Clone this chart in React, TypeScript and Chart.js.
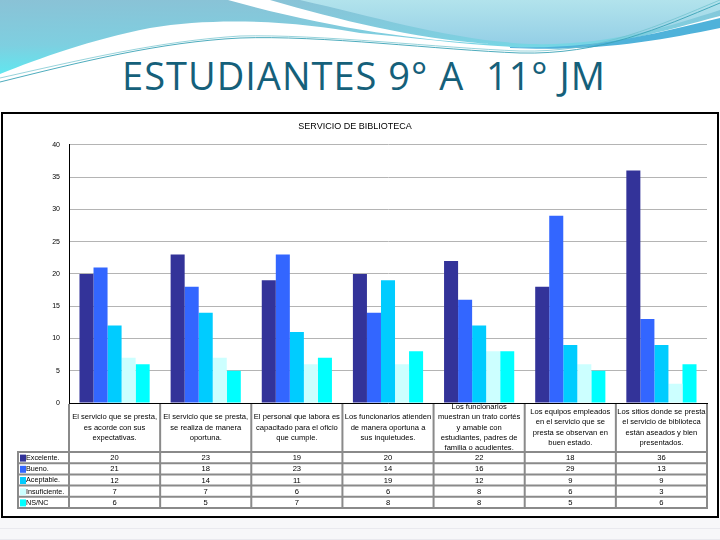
import React, { useEffect, useRef } from "react";
import { Chart, registerables } from "chart.js";

Chart.register(...registerables);

// ---- data ----
const categoryLines: string[][] = [
  ["El servicio que se presta,", "es acorde con sus", "expectativas."],
  ["El servicio que se presta,", "se realiza de manera", "oportuna."],
  ["El personal que labora es", "capacitado para el oficio", "que cumple."],
  ["Los funcionarios atienden", "de manera oportuna a", "sus inquietudes."],
  ["Los funcionarios", "muestran un trato cortés", "y amable con", "estudiantes, padres de", "familia o acudientes."],
  ["Los equipos empleados", "en el servicio que se", "presta se observan en", "buen estado."],
  ["Los sitios donde se presta", "el servicio de biblioteca", "están aseados y bien", "presentados."],
];
const seriesNames = ["Excelente.", "Bueno.", "Aceptable.", "Insuficiente.", "NS/NC"];
const excelente = [20, 23, 19, 20, 22, 18, 36];
const bueno = [21, 18, 23, 14, 16, 29, 13];
const aceptable = [12, 14, 11, 19, 12, 9, 9];
const insuficiente = [7, 7, 6, 6, 8, 6, 3];
const nsnc = [6, 5, 7, 8, 8, 5, 6];
const seriesColors = ["#333399", "#3366FF", "#00CCFF", "#CCFFFF", "#00FFFF"];
const yMin = 0;
const yMax = 40;
const yStep = 5;
const chartTitle = "SERVICIO DE BIBLIOTECA";
const pageTitle = "ESTUDIANTES 9° A  11° JM";

const FONT = "'Liberation Sans', Arial, sans-serif";

const tablePlugin = {
  id: "dataTable",
  afterDraw(chart: any) {
    const ctx = chart.ctx as CanvasRenderingContext2D;
    const xs = chart.scales.x;
    const area = chart.chartArea;
    const n = categoryLines.length;
    const left = area.left;
    const right = area.right;
    const cw = (right - left) / n;
    const top = area.bottom;
    const headH = 49;
    const rowH = 11.2;
    const legLeft = 15;
    const bottom = top + headH + rowH * seriesNames.length;
    ctx.save();
    // grid
    ctx.strokeStyle = "#8a8a8a";
    ctx.lineWidth = 2;
    ctx.beginPath();
    for (let i = 0; i <= n; i++) {
      const px = left + i * cw;
      ctx.moveTo(px, top + 1);
      ctx.lineTo(px, bottom);
    }
    for (let r = 0; r <= seriesNames.length; r++) {
      const py = top + headH + r * rowH;
      ctx.moveTo(legLeft - 1, py);
      ctx.lineTo(right + 1, py);
    }
    ctx.moveTo(legLeft, top + headH);
    ctx.lineTo(legLeft, bottom);
    ctx.stroke();
    // header labels
    ctx.font = `7.6px ${FONT}`;
    ctx.fillStyle = "#000";
    ctx.textAlign = "center";
    ctx.textBaseline = "middle";
    const lh = 10.2;
    categoryLines.forEach((lines, i) => {
      const cx = xs.getPixelForValue(i);
      const y0 = top + headH / 2 - ((lines.length - 1) * lh) / 2;
      lines.forEach((l, j) => ctx.fillText(l, cx, y0 + j * lh));
    });
    // rows
    chart.data.datasets.forEach((ds: any, r: number) => {
      const cy = top + headH + r * rowH + rowH / 2 + 0.5;
      ctx.fillStyle = seriesColors[r];
      ctx.fillRect(legLeft + 2, cy - 3.5, 6, 7);
      ctx.fillStyle = "#000";
      ctx.textAlign = "left";
      ctx.font = `7.2px ${FONT}`;
      ctx.fillText(ds.label, legLeft + 8, cy);
      ctx.textAlign = "center";
      ctx.font = `7.6px ${FONT}`;
      ds.data.forEach((v: number, i: number) => {
        ctx.fillText(String(v), xs.getPixelForValue(i), cy);
      });
    });
    ctx.restore();
  },
};

function BarChart() {
  const ref = useRef<HTMLCanvasElement>(null);
  useEffect(() => {
    if (!ref.current) return;
    const values = [excelente, bueno, aceptable, insuficiente, nsnc];
    const chart = new Chart(ref.current, {
      type: "bar",
      data: {
        labels: categoryLines.map((l) => l.join(" ")),
        datasets: seriesNames.map((name, i) => ({
          label: name,
          data: values[i],
          backgroundColor: seriesColors[i],
          borderWidth: 0,
          categoryPercentage: 0.77,
          barPercentage: 1.0,
        })),
      },
      options: {
        animation: false,
        responsive: false,
        maintainAspectRatio: false,
        devicePixelRatio: 1,
        layout: { padding: { left: 0, right: 10, top: 0, bottom: 0 } },
        plugins: {
          legend: { display: false },
          tooltip: { enabled: false },
          title: {
            display: true,
            text: chartTitle,
            color: "#000",
            font: { size: 9, family: FONT, weight: "normal" },
            padding: { top: 7, bottom: 13 },
          },
        },
        scales: {
          x: {
            type: "category",
            offset: true,
            grid: { display: false, drawTicks: false },
            border: { display: true, color: "#000", width: 1 },
            ticks: { display: false },
            afterFit: (s: any) => {
              s.height = 113;
            },
          },
          y: {
            min: yMin,
            max: yMax,
            ticks: {
              stepSize: yStep,
              color: "#000",
              font: { size: 7, family: FONT },
              padding: 9,
            },
            grid: { color: "#b4b4b4", lineWidth: 1, drawTicks: false },
            border: { display: true, color: "#000", width: 1 },
            afterFit: (s: any) => {
              s.width = 66;
            },
          },
        },
      },
      plugins: [tablePlugin],
    });
    return () => chart.destroy();
  }, []);
  return <canvas ref={ref} width={714} height={402} style={{ display: "block" }} />;
}

function Header() {
  return (
    <svg width={720} height={110} style={{ position: "absolute", left: 0, top: 0 }}>
      <defs>
        <linearGradient id="gA" x1="0" y1="0" x2="0.15" y2="1">
          <stop offset="0" stopColor="#8ac2d6" />
          <stop offset="0.6" stopColor="#7ecfe0" />
          <stop offset="1" stopColor="#5fe8f0" />
        </linearGradient>
        <linearGradient id="gB" x1="0" y1="0" x2="0" y2="1">
          <stop offset="0" stopColor="#b2e3ec" />
          <stop offset="1" stopColor="#94cfe6" />
        </linearGradient>
      </defs>
      <path
        d="M0,0 L720,0 L720,16 C660,32 600,50 540,48 C470,46 420,38 360,33 C300,22 220,16 150,28 C90,40 40,58 0,74 Z"
        fill="url(#gA)"
      />
      <path d="M300,0 C380,18 450,40 530,44 C610,46 670,26 720,10 L720,0 Z" fill="url(#gB)" />
      <path d="M228,0 L270,0 C340,20 410,38 490,44 C410,40 320,26 228,0 Z" fill="#ffffff" />
      <path d="M510,47 C600,50 660,32 720,18 L720,28 C660,40 600,52 510,48 Z" fill="#4fb2da" />
      <path d="M0,82 C80,62 160,42 240,38 C320,35 440,50 520,53 C600,55 660,28 720,3" fill="none" stroke="#3aa3b6" strokeWidth={0.9} />
      <path d="M0,78 C80,60 160,41 240,36 C320,34 440,48 520,51 C600,53 660,25 720,0" fill="none" stroke="#6cc0cc" strokeWidth={0.7} />
    </svg>
  );
}

export default function App() {
  return (
    <div
      style={{
        position: "absolute",
        left: 0,
        top: 0,
        width: 720,
        height: 540,
        background: "#ffffff",
        overflow: "hidden",
      }}
    >
      <Header />
      <div
        style={{
          position: "absolute",
          left: 0,
          top: 52,
          width: 728,
          textAlign: "center",
          fontFamily: "'Open Sans', 'Noto Sans', sans-serif",
          fontSize: 38,
          letterSpacing: "1px",
          lineHeight: "46px",
          color: "#15607a",
          whiteSpace: "pre",
        }}
      >
        {pageTitle}
      </div>
      <div
        style={{
          position: "absolute",
          left: 0,
          top: 518,
          width: 720,
          height: 22,
          background:
            "repeating-linear-gradient(0deg, #e9e9ee 0px, #e9e9ee 1px, #f7f7f9 1px, #f7f7f9 11px), #f7f7f9",
        }}
      />
      <div
        style={{
          position: "absolute",
          left: 1,
          top: 112,
          width: 718,
          height: 406,
          border: "2px solid #000",
          boxSizing: "border-box",
          background: "#fff",
        }}
      >
        <BarChart />
      </div>
    </div>
  );
}
